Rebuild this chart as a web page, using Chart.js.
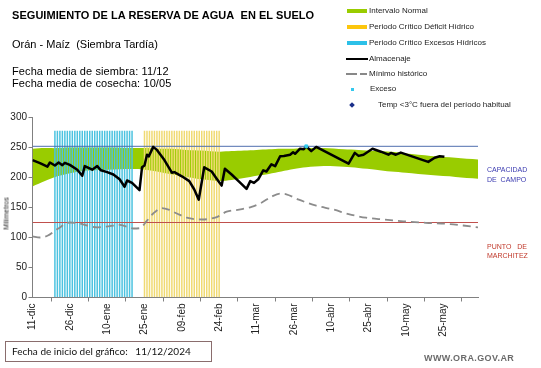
<!DOCTYPE html>
<html><head><meta charset="utf-8">
<script src="https://cdn.jsdelivr.net/npm/chart.js@4.4.0/dist/chart.umd.min.js"></script>
<style>
html,body{margin:0;padding:0;background:#fff;}
#wrap{position:relative;width:541px;height:368px;overflow:hidden;font-family:"Liberation Sans",Arial,sans-serif;background:#fff;}
#c{position:absolute;left:0;top:0;}
.t{position:absolute;white-space:nowrap;color:#000;}
.sw{position:absolute;}
</style></head><body>
<div id="wrap">
<canvas id="c" width="541" height="368"></canvas>
<div class="t" style="left:12px;top:8.5px;font-size:11px;font-weight:bold;line-height:13px;letter-spacing:0.05px;">SEGUIMIENTO DE LA RESERVA DE AGUA&nbsp; EN EL SUELO</div>
<div class="t" style="left:12px;top:38px;font-size:11px;line-height:13px;">Orán - Maíz&nbsp; (Siembra Tardía)</div>
<div class="t" style="left:12px;top:64.5px;font-size:11px;line-height:12px;letter-spacing:0.1px;">Fecha media de siembra: 11/12<br>Fecha media de cosecha: 10/05</div>

<div class="sw" style="left:347px;top:9px;width:20px;height:4px;background:#99cc00;"></div>
<div class="t" style="left:369px;top:6px;font-size:8px;line-height:10px;color:#222;">Intervalo Normal</div>
<div class="sw" style="left:347px;top:24.7px;width:20px;height:4px;background:#fcc60d;"></div>
<div class="t" style="left:369px;top:21.7px;font-size:8px;line-height:10px;color:#222;">Periodo Crítico Déficit Hídrico</div>
<div class="sw" style="left:347px;top:40.7px;width:20px;height:4px;background:#2cc0e8;"></div>
<div class="t" style="left:369px;top:37.7px;font-size:8px;line-height:10px;color:#222;">Periodo Crítico Excesos Hídricos</div>
<div class="sw" style="left:346px;top:57.8px;width:22px;height:2.5px;background:#000;"></div>
<div class="t" style="left:369px;top:54px;font-size:8px;line-height:10px;color:#222;">Almacenaje</div>
<div class="sw" style="left:346px;top:73.3px;width:11px;height:1.5px;background:#888;"></div>
<div class="sw" style="left:360px;top:73.3px;width:7px;height:1.5px;background:#888;"></div>
<div class="t" style="left:369px;top:69px;font-size:8px;line-height:10px;color:#222;">Mínimo histórico</div>
<div class="sw" style="left:350.5px;top:87.8px;width:3px;height:3px;background:#33c8ee;"></div>
<div class="t" style="left:370px;top:84.3px;font-size:8px;line-height:10px;color:#222;">Exceso</div>
<div class="sw" style="left:349.5px;top:102.5px;width:4px;height:4px;background:#1a2f8a;transform:rotate(45deg);"></div>
<div class="t" style="left:378px;top:100px;font-size:8px;line-height:10px;color:#222;">Temp &lt;3°C fuera del período habitual</div>

<div class="t" style="left:487px;top:165.3px;font-size:7px;line-height:9.3px;color:#3a3ab0;">CAPACIDAD<br>DE&nbsp; CAMPO</div>
<div class="t" style="left:487px;top:241.5px;font-size:7px;line-height:9px;color:#c0392b;">PUNTO&nbsp;&nbsp; DE<br>MARCHITEZ</div>

<div class="t" style="left:-11px;top:208.5px;width:34px;text-align:center;font-size:7px;line-height:9px;color:#222;transform:rotate(-90deg);">Milímetros</div>

<div style="position:absolute;left:5px;top:341px;width:205px;height:19px;border:1px solid #8a6d6d;"></div>
<div class="t" style="left:12px;top:344px;font-family:Lato,'Open Sans',sans-serif;font-size:10px;line-height:14px;color:#111;">Fecha de inicio del gráfico:&nbsp;&nbsp; 11/12/2024</div>
<div class="t" style="left:424px;top:353px;font-size:9px;font-weight:bold;letter-spacing:0.4px;line-height:10px;color:#6b6b6b;">WWW.ORA.GOV.AR</div>
</div>
<script>
// X axis: days since 11-dic
const tickDays = [0, 15, 30, 45, 60, 75, 90, 105, 120, 135, 150, 165];
const tickLabels = ['11-dic','26-dic','10-ene','25-ene','09-feb','24-feb','11-mar','26-mar','10-abr','25-abr','10-may','25-may'];

// Reference levels (mm)
const fieldCapacity = 252;
const wiltingPoint = 125;

// Normal interval band
const bandDays  = [0, 5, 10, 15, 20, 30, 40, 45, 50, 56, 62, 68, 75, 80, 85, 90, 95, 100, 105, 110, 117, 125, 131, 138, 144, 150, 160, 170, 179];
const bandUpper = [248, 249, 249, 250, 250, 250, 249, 249, 248, 248, 246, 245, 243, 244, 245, 246, 247, 248, 248, 249, 249, 247, 246, 244, 243, 240, 236, 233, 230];
const bandLower = [185, 194, 202, 207, 211, 213, 214, 213, 210, 205, 201, 197, 194, 196, 199, 203, 206, 210, 214, 217, 219, 218, 216, 213, 210, 208, 204, 201, 198];

// Almacenaje (stored water)
const storageDays = [0, 3, 6, 7, 9, 10.5, 12, 13, 15, 18, 20, 21, 24, 26, 27.5, 30, 32.5, 35, 37, 38, 40, 43, 44, 45, 46, 46.7, 48.5, 50, 53, 56, 57, 60, 63, 65, 66.8, 69, 72, 74, 76, 77.3, 80, 83, 86, 87.5, 89, 90.7, 92.7, 94, 96, 97.5, 99.5, 101, 103.5, 104.7, 105.5, 107.5, 109, 110, 112, 114, 127, 129.5, 131, 133, 136.6, 140, 143, 144, 146, 148, 159, 161.6, 163.6, 165.5];
const storageMm   = [229, 224, 218, 225, 220, 225, 220.5, 224.5, 221, 213, 203, 219, 213, 219, 212, 209, 205, 197, 184.5, 195, 191, 179, 217, 220, 238, 235, 251, 246, 229, 208, 209, 202, 194, 180, 163, 217, 210, 198, 186.5, 214.5, 205, 193, 181, 194, 191, 197, 212, 210, 222, 219, 235.5, 236, 238, 242, 239.5, 248, 247, 252, 244, 251, 223, 241, 236, 238, 248, 243, 238, 241, 238, 241.5, 226, 233, 235.5, 234.5];

// Mínimo histórico
const minDays = [0, 3, 6, 10, 15, 18, 22, 26, 31, 35, 38, 40.5, 43, 46, 48.5, 52, 55, 58, 62, 68, 74, 78, 83, 88, 92, 96, 99.5, 102, 107, 114, 121, 127, 134, 141, 149, 158, 166, 173, 179];
const minMm   = [102, 100, 103, 114, 125, 124, 120, 117, 119, 121, 118, 115, 115.5, 128, 140, 149, 146, 140, 133, 130, 134, 143, 146.5, 151, 158, 168, 173, 172, 163, 153, 146.5, 139, 133, 130, 127, 124.5, 123, 120, 117];

// Critical periods (daily bars)
const excessDays  = [9,10,11,12,13,14,15,16,17,18,19,20,21,22,23,24,25,26,27,28,29,30,31,32,33,34,35,36,37,38,39,40];
const deficitDays = [45,46,47,48,49,50,51,52,53,54,55,56,57,58,59,60,61,62,63,64,65,66,67,68,69,70,71,72,73,74,75];
const periodBarHeight = 278;

// Exceso marker
const excesoDays = [110];
const excesoMm = [252];

const xMax = 179;

const pts = (xs, ys) => xs.map((x, i) => ({x: x, y: ys[i]}));
const bars = (xs) => xs.map(x => ({x: x, y: periodBarHeight}));

const FONT = '"Liberation Sans", Arial, sans-serif';

new Chart(document.getElementById('c'), {
  type: 'line',
  data: {
    datasets: [
      { label: 'lower', data: pts(bandDays, bandLower), borderWidth: 0, borderColor: 'rgba(0,0,0,0)', pointRadius: 0, fill: false, tension: 0.3, order: 10 },
      { label: 'Intervalo Normal', data: pts(bandDays, bandUpper), borderWidth: 0, borderColor: 'rgba(0,0,0,0)', backgroundColor: '#99cc00', pointRadius: 0, fill: '-1', tension: 0.3, order: 10 },
      { type: 'bar', label: 'Excesos', data: bars(excessDays), backgroundColor: '#4cc3e0', grouped: false, barPercentage: 0.6, categoryPercentage: 1, order: 6 },
      { type: 'bar', label: 'Déficit', data: bars(deficitDays), backgroundColor: '#f0da72', grouped: false, barPercentage: 0.6, categoryPercentage: 1, order: 6 },
      { label: 'CC', data: [{x: 0, y: fieldCapacity}, {x: xMax, y: fieldCapacity}], borderColor: '#4f6fae', borderWidth: 1, pointRadius: 0, order: 4 },
      { label: 'PM', data: [{x: 0, y: wiltingPoint}, {x: xMax, y: wiltingPoint}], borderColor: '#c0504d', borderWidth: 1, pointRadius: 0, order: 4 },
      { label: 'Mínimo histórico', data: pts(minDays, minMm), borderColor: '#8c8c8c', borderWidth: 1.8, borderDash: [8, 5], pointRadius: 0, cubicInterpolationMode: 'monotone', order: 3 },
      { label: 'Almacenaje', data: pts(storageDays, storageMm), borderColor: '#000', borderWidth: 2.5, pointRadius: 0, tension: 0, borderJoinStyle: 'round', order: 1 },
      { label: 'Exceso', data: pts(excesoDays, excesoMm), showLine: false, pointStyle: 'rect', pointRadius: 2, backgroundColor: '#33ccee', borderColor: '#33ccee', order: 0 }
    ]
  },
  options: {
    responsive: false,
    animation: false,
    devicePixelRatio: 1,
    layout: { padding: { top: 117.5, right: 63, left: 0, bottom: 0 } },
    plugins: { legend: { display: false }, tooltip: { enabled: false } },
    scales: {
      x: {
        type: 'linear', min: 0, max: xMax, offset: false,
        afterBuildTicks: s => { s.ticks = tickDays.map(v => ({value: v})); },
        afterFit: s => { s.height = 70.5; },
        ticks: { autoSkip: false, maxRotation: 90, minRotation: 90, padding: 2, color: '#222', font: { family: FONT, size: 10 },
          callback: (v) => { const i = tickDays.indexOf(v); return i >= 0 ? tickLabels[i] : ''; } },
        grid: { drawOnChartArea: false, drawTicks: true, tickLength: 4, color: '#808080' },
        border: { color: '#808080', width: 1 }
      },
      y: {
        min: 0, max: 300,
        afterFit: s => { s.width = 32.5; },
        ticks: { stepSize: 50, padding: 1.5, color: '#222', font: { family: FONT, size: 10 } },
        grid: { drawOnChartArea: false, drawTicks: true, tickLength: 4, color: '#808080' },
        border: { color: '#808080', width: 1 }
      }
    }
  }
});
</script>
</body></html>
